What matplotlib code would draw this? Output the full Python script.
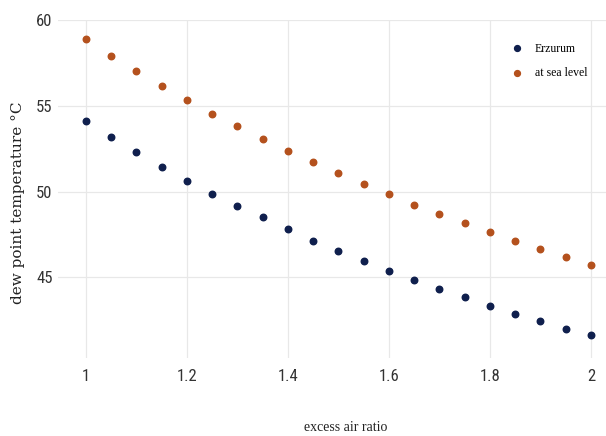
import numpy as np
import matplotlib
matplotlib.use("Agg")
import matplotlib.pyplot as plt
from matplotlib import font_manager

# excess air ratio
air_ratio = [1.00, 1.05, 1.10, 1.15, 1.20, 1.25, 1.30, 1.35, 1.40, 1.45, 1.50,
             1.55, 1.60, 1.65, 1.70, 1.75, 1.80, 1.85, 1.90, 1.95, 2.00]

# dew point temperatures
erzurum = [54.10, 53.17, 52.28, 51.44, 50.64, 49.88, 49.14, 48.50, 47.80, 47.14, 46.53,
           45.95, 45.39, 44.84, 44.33, 43.83, 43.34, 42.88, 42.45, 42.00, 41.61]
sea_level = [58.88, 57.91, 57.02, 56.16, 55.35, 54.55, 53.80, 53.08, 52.38, 51.70, 51.06,
             50.45, 49.84, 49.24, 48.70, 48.14, 47.62, 47.13, 46.65, 46.18, 45.72]

x_ticks = [1, 1.2, 1.4, 1.6, 1.8, 2]
x_tick_labels = ["1", "1.2", "1.4", "1.6", "1.8", "2"]
y_ticks = [45, 50, 55, 60]

# pick a narrow sans for the tick labels if one is installed
names = set(f.name for f in font_manager.fontManager.ttflist)
tick_font = {"family": "DejaVu Sans", "stretch": "condensed"}
for cand in ["Liberation Sans Narrow", "Roboto Condensed", "Open Sans Condensed", "DejaVu Sans Condensed"]:
    if cand in names:
        tick_font = {"family": cand}
        break

fig = plt.figure(figsize=(6.06, 4.36), dpi=100)
ax = fig.add_axes([0.096, 0.179, 0.904, 0.775])

ax.scatter(air_ratio, erzurum, s=22, color="#0f1f4d", label="Erzurum", zorder=3)
ax.scatter(air_ratio, sea_level, s=22, color="#b4511d", label="at sea level", zorder=3)

ax.set_xlim(0.945, 2.03)
ax.set_ylim(40.3, 60.0)
ax.set_xticks(x_ticks)
ax.set_xticklabels(x_tick_labels)
ax.set_yticks(y_ticks)

ax.grid(True, color="#e8e8e8", linewidth=0.9)
ax.set_axisbelow(True)
for s in ax.spines.values():
    s.set_visible(False)
ax.tick_params(length=0, labelsize=12, labelcolor="#333333")
ax.tick_params(axis="y", pad=4)
ax.tick_params(axis="x", pad=8)
for lab in ax.get_xticklabels() + ax.get_yticklabels():
    lab.set_fontfamily(tick_font["family"])
    if "stretch" in tick_font:
        lab.set_fontstretch(tick_font["stretch"])

fig.text(0.03, 0.535, "dew point temperature \u00b0C", rotation=90, ha="center", va="center",
         fontsize=11, family="DejaVu Serif", color="#222222")
fig.text(0.571, 0.02, "excess air ratio", ha="center", va="center",
         fontsize=10, family="Liberation Serif", color="#222222")

leg = ax.legend(loc="upper right", bbox_to_anchor=(0.985, 0.965), frameon=False,
                prop={"family": "Liberation Serif", "size": 8.5},
                handletextpad=0.5, labelspacing=1.05, markerscale=0.9)

fig.savefig("out.png", dpi=100)
